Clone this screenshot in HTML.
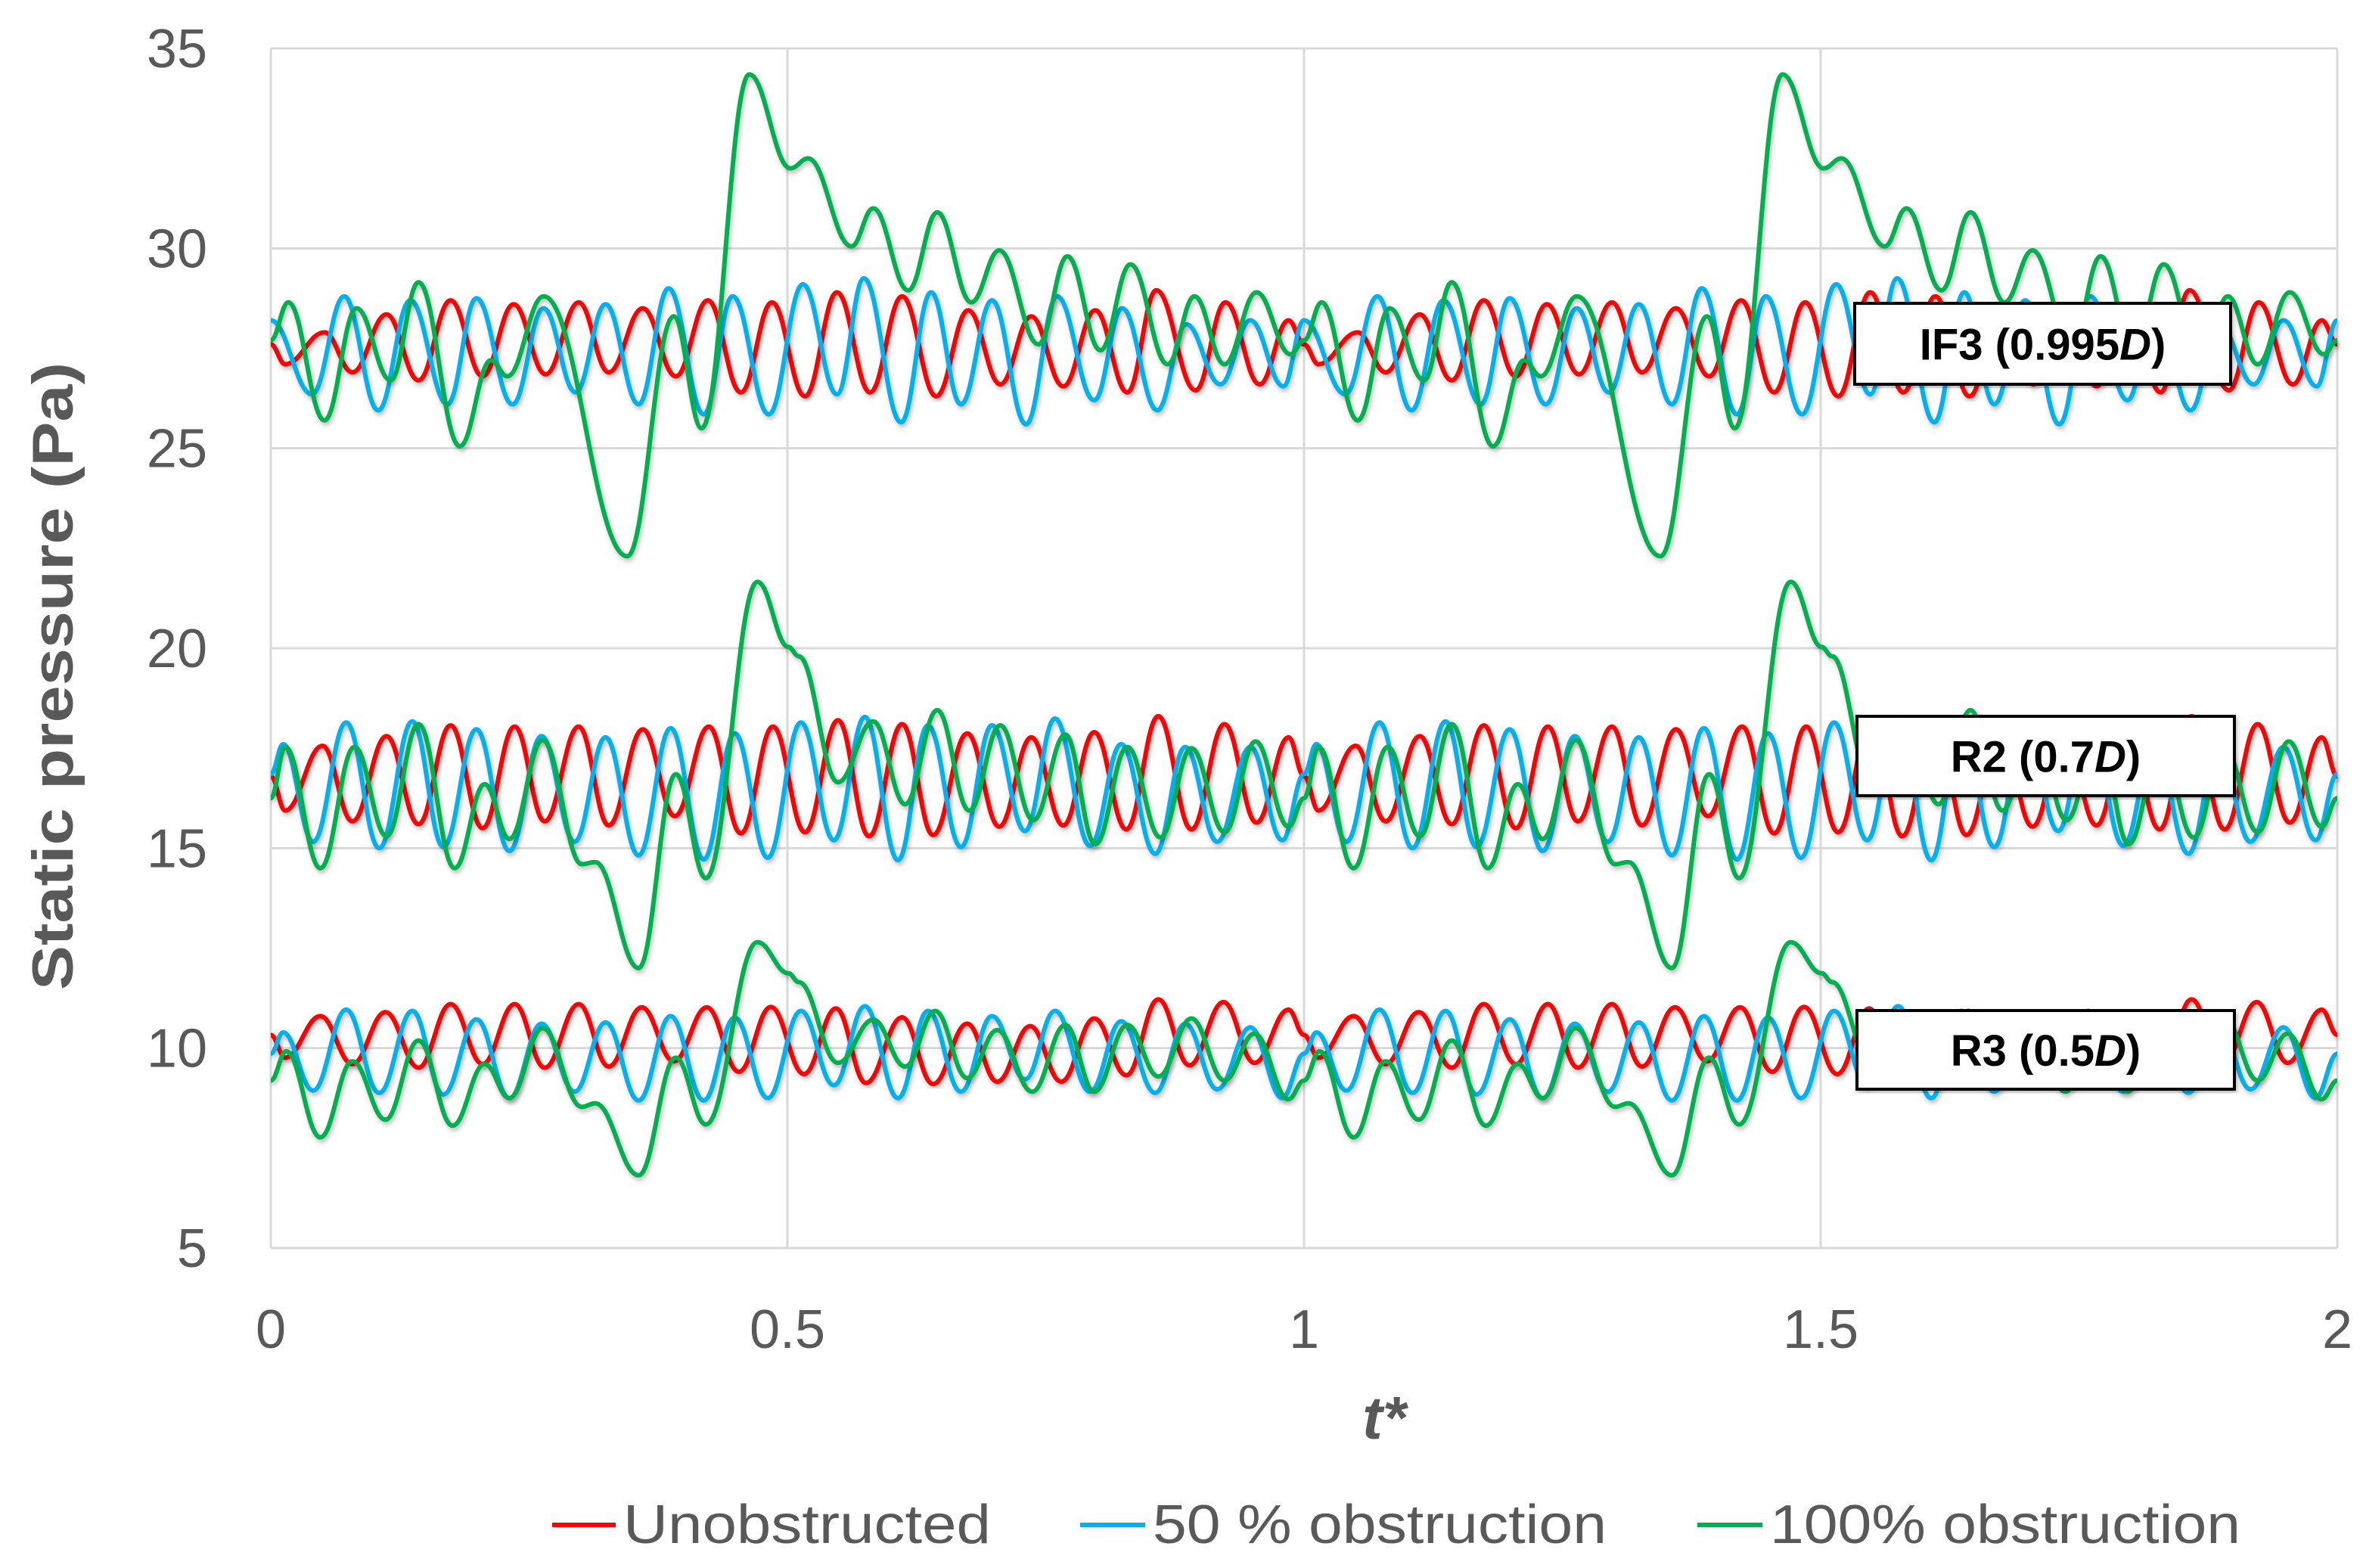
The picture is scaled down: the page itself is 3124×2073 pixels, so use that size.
<!DOCTYPE html>
<html><head><meta charset="utf-8"><style>
html,body{margin:0;padding:0;background:#fff;}
svg{display:block;}
text{font-family:"Liberation Sans",sans-serif;}
</style></head><body>
<svg id="chart" width="3124" height="2073" viewBox="0 0 3124 2073" xmlns="http://www.w3.org/2000/svg">
<rect x="0" y="0" width="3124" height="2073" fill="#fff"/>
<g id="grid"></g>
<g id="series"></g>
<g id="labels"></g>
<g id="axes"></g>
<text x="0" y="0" transform="translate(96,894) rotate(-90)" text-anchor="middle" font-size="76" font-weight="bold" fill="#595959" textLength="830" lengthAdjust="spacingAndGlyphs">Static pressure (Pa)</text>
<text x="1830" y="1902" text-anchor="middle" font-size="80" font-weight="bold" font-style="italic" fill="#595959">t*</text>
<g>
 <g>
  <line x1="730" y1="2016" x2="814" y2="2016" stroke="#ff0000" stroke-width="6"/>
  <text x="824" y="2040" font-size="72" fill="#595959" textLength="486" lengthAdjust="spacingAndGlyphs">Unobstructed</text>
 </g>
 <g>
  <line x1="1428" y1="2016" x2="1514" y2="2016" stroke="#00b0f0" stroke-width="6"/>
  <text x="1524" y="2040" font-size="72" fill="#595959" textLength="600" lengthAdjust="spacingAndGlyphs">50 % obstruction</text>
 </g>
 <g>
  <line x1="2244" y1="2016" x2="2330" y2="2016" stroke="#00b050" stroke-width="6"/>
  <text x="2340" y="2040" font-size="72" fill="#595959" textLength="622" lengthAdjust="spacingAndGlyphs">100% obstruction</text>
 </g>
</g>
</svg>
<script>
// ---- data (one period of the record, t* in [0,1); record repeats each period) ----
const yTicks = [5,10,15,20,25,30,35];
const xTicks = [0,0.5,1,1.5,2];
const xTickLabels = ["0","0.5","1","1.5","2"];
const cycleOffsets = [0,1,2];

const if3RedT = [0,.014,.052,.079,.112,.143,.174,.205,.235,.266,.298,.327,.360,.392,.423,.455,.485,.517,.548,.580,.611,.644,.675,.706,.736,.767,.798,.829,.857,.895,.924,.957,.985];
const if3RedV = [27.6,27.1,27.9,26.9,28.35,26.7,28.7,26.8,28.6,26.85,28.65,26.9,28.5,26.8,28.7,26.4,28.65,26.3,28.9,26.4,28.8,26.3,28.45,26.6,28.3,26.55,28.45,26.4,28.95,26.45,28.65,26.6,28.2];
const if3BlueT = [0,.040,.071,.104,.135,.171,.199,.234,.264,.295,.324,.356,.385,.419,.447,.482,.515,.548,.574,.610,.639,.668,.698,.731,.761,.797,.824,.858,.886,.919,.948,.980];
const if3BlueV = [28.2,26.35,28.8,25.95,28.7,26.1,28.75,26.1,28.5,26.4,28.6,26.1,29.0,25.85,28.8,25.85,29.1,26.35,29.25,25.65,28.9,26.1,28.7,25.6,28.8,26.2,28.5,25.95,28.1,26.6,28.2,26.55];
const if3GreenT = [0,.017,.052,.083,.116,.143,.183,.213,.229,.264,.345,.390,.417,.463,.503,.520,.562,.583,.617,.645,.678,.705,.743,.771,.803,.832,.868,.894,.923,.954,.987];
const if3GreenV = [27.7,28.65,25.7,28.5,26.7,29.15,25.05,27.2,26.8,28.8,22.3,28.3,25.5,34.35,32.0,32.25,30.05,31.0,28.95,30.9,28.65,29.95,27.6,29.8,27.45,29.6,27.1,28.8,27.1,28.9,27.35];

const r2RedT = [0,.014,.050,.079,.112,.143,.174,.205,.236,.265,.298,.327,.360,.391,.424,.455,.486,.517,.549,.579,.611,.641,.674,.705,.736,.767,.797,.828,.859,.891,.923,.954,.985];
const r2RedV = [16.8,15.94,17.56,15.67,17.8,15.6,18.07,15.5,18.04,15.67,18.04,15.57,17.97,15.8,18.04,15.37,18.04,15.4,18.2,15.3,18.1,15.33,17.87,15.54,17.77,15.57,17.9,15.47,18.3,15.47,18.1,15.64,17.77];
const r2BlueT = [0,.012,.041,.073,.105,.137,.167,.199,.231,.262,.294,.324,.356,.387,.419,.449,.481,.513,.545,.575,.607,.636,.668,.698,.730,.759,.793,.823,.856,.885,.916,.948,.979];
const r2BlueV = [16.85,17.6,15.16,18.14,15.0,18.17,15.03,17.97,14.93,17.8,15.16,17.77,14.82,18.0,14.72,17.87,14.76,18.14,15.2,18.28,14.7,18.07,15.03,18.07,15.43,18.24,15.06,17.6,14.86,17.53,15.16,17.53,15.2];
const r2GreenT = [0,.014,.048,.081,.112,.143,.178,.207,.231,.263,.301,.314,.356,.392,.421,.471,.501,.511,.549,.583,.614,.645,.676,.706,.738,.769,.798,.829,.861,.891,.923,.953,.985];
const r2GreenV = [16.25,17.53,14.5,17.53,15.3,18.1,14.5,16.6,15.23,17.7,14.6,14.65,12.0,16.85,14.25,21.66,20.03,19.8,16.65,18.17,16.1,18.45,15.94,18.07,15.7,17.84,15.1,17.53,15.27,17.5,15.4,17.67,15.54];

const r3RedT = [0,.014,.048,.079,.111,.143,.174,.205,.236,.265,.298,.327,.359,.390,.422,.453,.484,.516,.547,.576,.611,.641,.674,.703,.735,.765,.797,.828,.859,.889,.922,.952,.985];
const r3RedV = [10.33,9.76,10.8,9.6,10.9,9.51,11.1,9.6,11.1,9.51,11.1,9.54,11.02,9.67,11.02,9.41,11.03,9.35,10.99,9.13,10.77,9.1,10.61,9.16,10.55,9.16,10.74,9.32,11.22,9.57,11.15,9.63,10.96];
const r3BlueT = [0,.012,.041,.073,.105,.137,.167,.199,.231,.262,.294,.324,.356,.387,.419,.449,.481,.513,.545,.575,.607,.636,.668,.698,.730,.759,.793,.823,.856,.885,.916,.948,.979];
const r3BlueV = [9.86,10.39,8.94,10.96,8.88,10.93,8.84,10.72,8.75,10.61,8.91,10.64,8.69,10.8,8.69,10.76,8.75,10.93,9.07,11.05,8.75,10.93,8.91,10.8,9.22,10.93,8.91,10.67,8.88,10.61,8.97,10.52,8.75];
const r3GreenT = [0,.015,.048,.079,.111,.143,.176,.207,.231,.263,.301,.314,.356,.392,.421,.471,.501,.511,.549,.583,.614,.643,.674,.703,.737,.769,.797,.829,.859,.891,.923,.952,.985];
const r3GreenV = [9.19,9.92,7.77,9.67,8.21,10.19,8.06,9.6,8.75,10.5,8.53,8.62,6.82,9.76,8.09,12.65,11.87,11.65,9.63,10.71,9.54,10.93,9.25,10.45,8.91,10.58,8.91,10.58,9.29,10.74,9.19,10.36,8.72];

const probeLabels = ["IF3 (0.995", "R2 (0.7", "R3 (0.5"];

// ---- layout ----
const X0=358, X1=3090, Y_TOP=64, Y_BOT=1650, XMIN=0, XMAX=2, YMIN=5, YMAX=35;
const xs = t => X0 + (t-XMIN)/(XMAX-XMIN)*(X1-X0);
const ys = v => Y_BOT - (v-YMIN)/(YMAX-YMIN)*(Y_BOT-Y_TOP);
const NS='http://www.w3.org/2000/svg';
function mk(tag, attrs, parent){const e=document.createElementNS(NS,tag);for(const k in attrs)e.setAttribute(k,attrs[k]);parent.appendChild(e);return e;}

const grid=document.getElementById('grid');
yTicks.forEach(v=>{
  const l=mk('line',{x1:X0,x2:X1,y1:ys(v),y2:ys(v),stroke:'#d9d9d9','stroke-width':3},grid);
  
  
});
xTicks.forEach(t=>{
  const l=mk('line',{x1:xs(t),x2:xs(t),y1:Y_TOP,y2:Y_BOT,stroke:'#d9d9d9','stroke-width':3},grid);
  
  
});
const axes=document.getElementById('axes');
yTicks.forEach(v=>{
  const tx=mk('text',{x:274,y:ys(v)+25,'text-anchor':'end','font-size':72,fill:'#595959'},axes);
  tx.textContent=String(v);
  
  
});
xTicks.forEach((t,i)=>{
  const tx=mk('text',{x:xs(t),y:1782,'text-anchor':'middle','font-size':72,fill:'#595959'},axes);
  tx.textContent=xTickLabels[i];
  
  
});

function buildPoints(T,V){
  const pts=[];
  cycleOffsets.forEach(off=>{
    for(let i=0;i<T.length;i++){const t=T[i]+off; if(t<=XMAX+1e-9) pts.push([xs(t),ys(V[i])]);}
  });
  return pts;
}
function pathD(pts){
  let d='M'+pts[0][0].toFixed(1)+' '+pts[0][1].toFixed(1);
  for(let i=1;i<pts.length;i++){
    const [x0,y0]=pts[i-1],[x1,y1]=pts[i]; const dx=(x1-x0)*0.4;
    d+=' C'+(x0+dx).toFixed(1)+' '+y0.toFixed(1)+' '+(x1-dx).toFixed(1)+' '+y1.toFixed(1)+' '+x1.toFixed(1)+' '+y1.toFixed(1);
  }
  return d;
}
const seriesG=document.getElementById('series');
const defs=mk('defs',{},seriesG);
const f=mk('filter',{id:'sh',x:'-5%',y:'-5%',width:'110%',height:'110%'},defs);
mk('feDropShadow',{dx:2,dy:4,stdDeviation:3,'flood-color':'#000','flood-opacity':0.25},f);

const seriesList=[
 ['if3-unobstructed-line',if3RedT,if3RedV,'#ff0000'],
 ['r2-unobstructed-line',r2RedT,r2RedV,'#ff0000'],
 ['r3-unobstructed-line',r3RedT,r3RedV,'#ff0000'],
 ['if3-50-obstruction-line',if3BlueT,if3BlueV,'#00b0f0'],
 ['r2-50-obstruction-line',r2BlueT,r2BlueV,'#00b0f0'],
 ['r3-50-obstruction-line',r3BlueT,r3BlueV,'#00b0f0'],
 ['if3-100-obstruction-line',if3GreenT,if3GreenV,'#00b050'],
 ['r2-100-obstruction-line',r2GreenT,r2GreenV,'#00b050'],
 ['r3-100-obstruction-line',r3GreenT,r3GreenV,'#00b050']
];
seriesList.forEach(s=>{
  const p=mk('path',{d:pathD(buildPoints(s[1],s[2])),fill:'none',stroke:s[3],'stroke-width':6,'stroke-linejoin':'round',filter:'url(#sh)'},seriesG);
  
  
});

const lab=document.getElementById('labels');
const boxes=[[2452,401,497,107],[2455,947,499,105],[2455,1336,499,104]];
boxes.forEach((b,i)=>{
  const g=mk('g',{},lab);
  
  
  mk('rect',{x:b[0],y:b[1],width:b[2],height:b[3],fill:'#fff',stroke:'#000','stroke-width':4,filter:'url(#sh)'},g);
  const tx=mk('text',{x:b[0]+b[2]/2,y:b[1]+b[3]/2+21,'text-anchor':'middle','font-size':58,'font-weight':'bold',fill:'#000'},g);
  tx.appendChild(document.createTextNode(probeLabels[i]));
  const it=mk('tspan',{'font-style':'italic'},tx); it.textContent='D';
  tx.appendChild(document.createTextNode(')'));
});
</script>
</body></html>
